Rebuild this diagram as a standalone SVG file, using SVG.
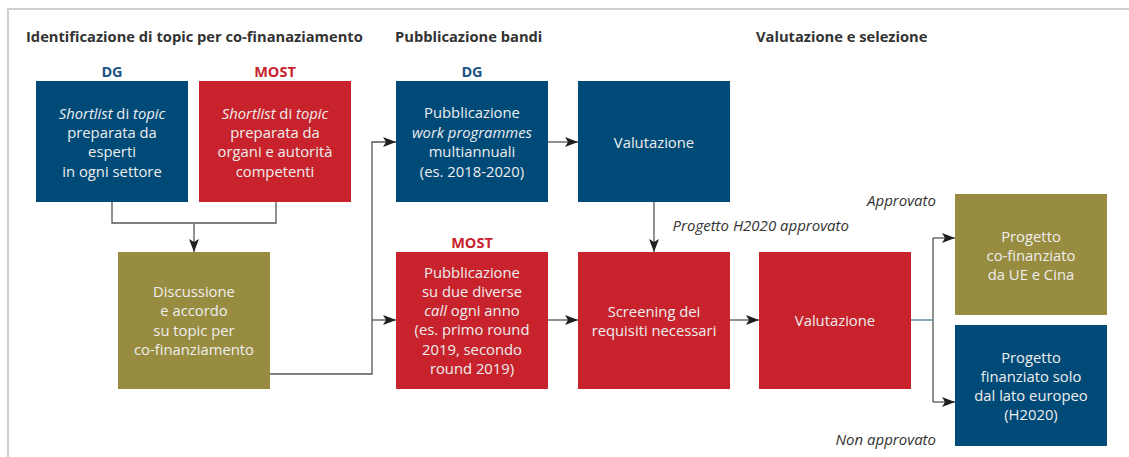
<svg xmlns="http://www.w3.org/2000/svg" width="1129" height="457" viewBox="0 0 1129 457">
<style>
.bg{fill:#ffffff}
.frame{fill:none;stroke:#cfcfcf;stroke-width:2}
.blue{fill:#004a78}
.red{fill:#c8232c}
.olive{fill:#988c40}
.bt{font-family:"Open Sans","Noto Sans",sans-serif;font-size:14.8px;fill:#eeeeee;text-anchor:middle}
.hd{font-family:"Open Sans","Noto Sans",sans-serif;font-size:14.7px;font-weight:bold;fill:#333333}
.hb{font-family:"Open Sans","Noto Sans",sans-serif;font-size:14.5px;font-weight:bold;fill:#1d5485;text-anchor:middle}
.hr{font-family:"Open Sans","Noto Sans",sans-serif;font-size:14.5px;font-weight:bold;fill:#c8232c;text-anchor:middle}
.lab{font-family:"Open Sans","Noto Sans",sans-serif;font-size:15px;font-style:italic;fill:#333333}
.ln{fill:none;stroke:#555555;stroke-width:1.3}
.lnb{fill:none;stroke:#4a7fa0;stroke-width:1.3}
</style>
<defs>
<marker id="ah" markerWidth="14" markerHeight="10" refX="13" refY="5" orient="auto" markerUnits="userSpaceOnUse">
<path d="M0,0 L13,5 L0,10 L3,5 Z" fill="#231f20"/>
</marker>
</defs>
<rect class="bg" x="0" y="0" width="1129" height="457"/>
<path class="frame" d="M8,457 V9 H1129"/>

<text class="hd" x="26" y="42">Identificazione di topic per co-finanaziamento</text>
<text class="hd" x="395" y="42">Pubblicazione bandi</text>
<text class="hd" x="756" y="42">Valutazione e selezione</text>

<text class="hb" x="112" y="77">DG</text>
<text class="hr" x="275" y="77">MOST</text>
<text class="hb" x="472" y="77">DG</text>
<text class="hr" x="472" y="248">MOST</text>

<g id="connectors">
<path class="ln" d="M112,202 V223 H276 V202"/>
<path class="ln" d="M194,224 V252" marker-end="url(#ah)"/>
<path class="ln" d="M270,374 H372 V142 H396" marker-end="url(#ah)"/>
<path class="ln" d="M372,320 H396" marker-end="url(#ah)"/>
<path class="ln" d="M548,142 H578" marker-end="url(#ah)"/>
<path class="ln" d="M654,202 V252" marker-end="url(#ah)"/>
<path class="ln" d="M548,320 H578" marker-end="url(#ah)"/>
<path class="ln" d="M730,320 H759" marker-end="url(#ah)"/>
<path class="lnb" d="M911,320 H933"/>
<path class="ln" d="M933,238 V402"/>
<path class="ln" d="M933,238 H955" marker-end="url(#ah)"/>
<path class="ln" d="M933,402 H955" marker-end="url(#ah)"/>
<text class="lab" x="849" y="231" text-anchor="end">Progetto H2020 approvato</text>
<text class="lab" x="936" y="206" text-anchor="end">Approvato</text>
<text class="lab" x="936" y="445" text-anchor="end">Non approvato</text>
</g>

<g id="n1">
<rect class="blue" x="36" y="81" width="152" height="121"/>
<text class="bt" x="112" y="119"><tspan font-style="italic">Shortlist</tspan> di <tspan font-style="italic">topic</tspan></text>
<text class="bt" x="112" y="138">preparata da</text>
<text class="bt" x="112" y="157">esperti</text>
<text class="bt" x="112" y="177">in ogni settore</text>
</g>
<g id="n2">
<rect class="red" x="199" y="81" width="152" height="121"/>
<text class="bt" x="275" y="119"><tspan font-style="italic">Shortlist</tspan> di <tspan font-style="italic">topic</tspan></text>
<text class="bt" x="275" y="138">preparata da</text>
<text class="bt" x="275" y="157">organi e autorità</text>
<text class="bt" x="275" y="177">competenti</text>
</g>
<g id="n3">
<rect class="olive" x="118" y="252" width="152" height="137"/>
<text class="bt" x="194" y="297">Discussione</text>
<text class="bt" x="194" y="316">e accordo</text>
<text class="bt" x="194" y="336">su topic per</text>
<text class="bt" x="194" y="355">co-finanziamento</text>
</g>
<g id="n4">
<rect class="blue" x="396" y="81" width="152" height="121"/>
<text class="bt" x="472" y="118">Pubblicazione</text>
<text class="bt" x="472" y="138" font-style="italic">work programmes</text>
<text class="bt" x="472" y="157">multiannuali</text>
<text class="bt" x="472" y="177">(es. 2018-2020)</text>
</g>
<g id="n5">
<rect class="blue" x="578" y="81" width="152" height="121"/>
<text class="bt" x="654" y="148">Valutazione</text>
</g>
<g id="n6">
<rect class="red" x="396" y="252" width="152" height="137"/>
<text class="bt" x="472" y="278">Pubblicazione</text>
<text class="bt" x="472" y="297">su due diverse</text>
<text class="bt" x="472" y="316"><tspan font-style="italic">call</tspan> ogni anno</text>
<text class="bt" x="472" y="335">(es. primo round</text>
<text class="bt" x="472" y="355">2019, secondo</text>
<text class="bt" x="472" y="374">round 2019)</text>
</g>
<g id="n7">
<rect class="red" x="578" y="252" width="152" height="137"/>
<text class="bt" x="654" y="317">Screening dei</text>
<text class="bt" x="654" y="336">requisiti necessari</text>
</g>
<g id="n8">
<rect class="red" x="759" y="252" width="152" height="137"/>
<text class="bt" x="835" y="326">Valutazione</text>
</g>
<g id="n9">
<rect class="olive" x="955" y="194" width="152" height="121"/>
<text class="bt" x="1031" y="242">Progetto</text>
<text class="bt" x="1031" y="261">co-finanziato</text>
<text class="bt" x="1031" y="280">da UE e Cina</text>
</g>
<g id="n10">
<rect class="blue" x="955" y="325" width="152" height="121"/>
<text class="bt" x="1031" y="363">Progetto</text>
<text class="bt" x="1031" y="382">finanziato solo</text>
<text class="bt" x="1031" y="401">dal lato europeo</text>
<text class="bt" x="1031" y="420">(H2020)</text>
</g>
</svg>
